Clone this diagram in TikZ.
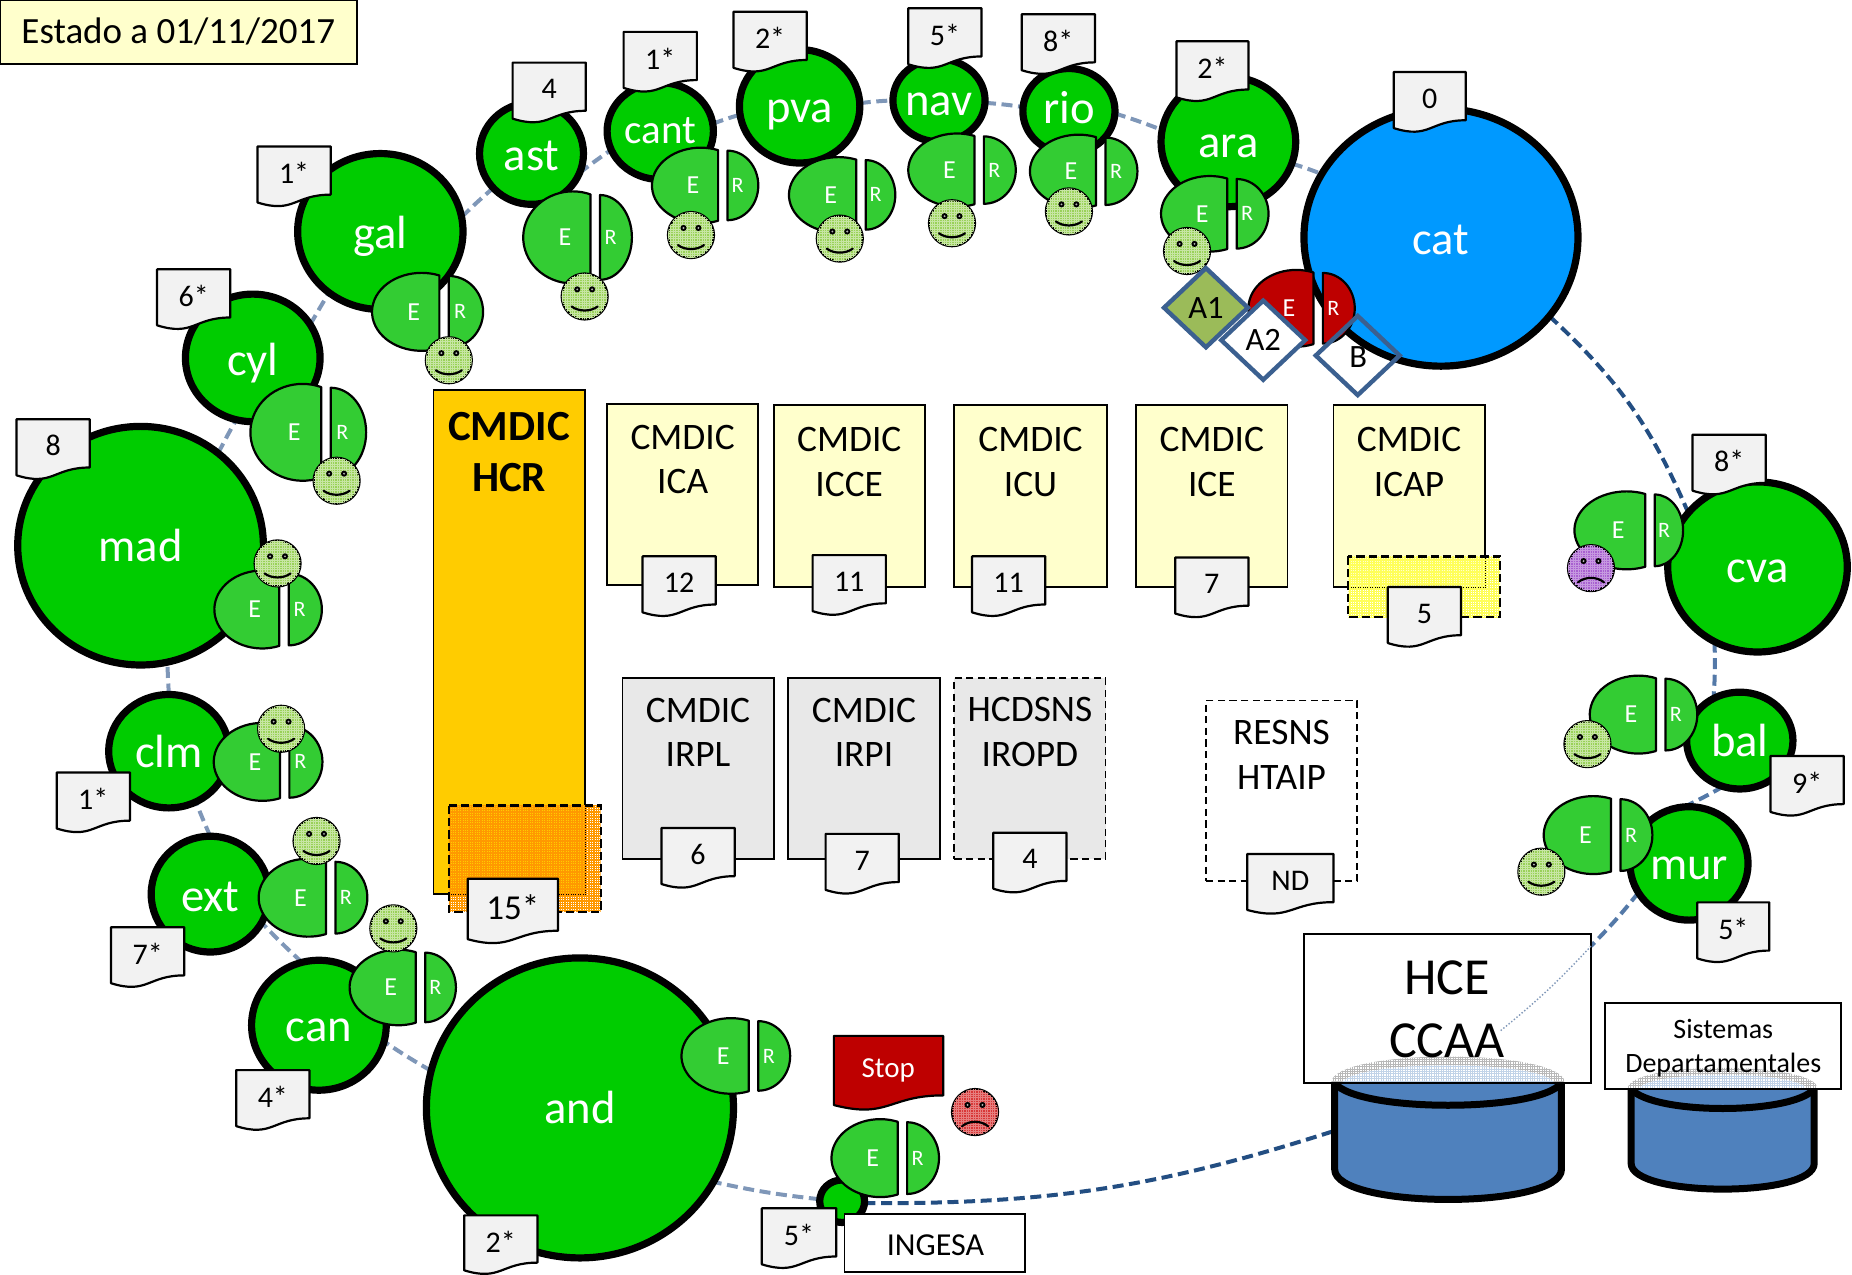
\documentclass[tikz,border=0pt]{standalone}
\usepackage{fontspec}
\setmainfont{Carlito}
\usetikzlibrary{shapes.geometric,patterns,backgrounds}
\pgfdeclarelayer{ringlayer}
\pgfsetlayers{ringlayer,main}
\pgfdeclarepatternformonly{meshthin}{\pgfqpoint{-.2pt}{-.2pt}}{\pgfqpoint{1.4pt}{1.4pt}}{\pgfqpoint{1.2pt}{1.2pt}}{%
 \pgfsetlinewidth{.3pt}\pgfpathmoveto{\pgfqpoint{0pt}{.6pt}}\pgfpathlineto{\pgfqpoint{1.2pt}{.6pt}}\pgfpathmoveto{\pgfqpoint{.6pt}{0pt}}\pgfpathlineto{\pgfqpoint{.6pt}{1.2pt}}\pgfusepath{stroke}}
\pgfdeclarepatternformonly{meshheavy}{\pgfqpoint{-.2pt}{-.2pt}}{\pgfqpoint{1.4pt}{1.4pt}}{\pgfqpoint{1.2pt}{1.2pt}}{%
 \pgfsetlinewidth{.7pt}\pgfpathmoveto{\pgfqpoint{0pt}{.6pt}}\pgfpathlineto{\pgfqpoint{1.2pt}{.6pt}}\pgfpathmoveto{\pgfqpoint{.6pt}{0pt}}\pgfpathlineto{\pgfqpoint{.6pt}{1.2pt}}\pgfusepath{stroke}}
\definecolor{ringdark}{HTML}{234E82}
\definecolor{ringmid}{HTML}{5479A8}
\definecolor{ringlight}{HTML}{7F97B8}
\definecolor{green1}{HTML}{00CC00}
\definecolor{green2}{HTML}{33CC33}
\definecolor{blue1}{HTML}{0099FF}
\definecolor{red1}{HTML}{BE0000}
\definecolor{cream}{HTML}{FFFFCC}
\definecolor{gold}{HTML}{FFCC00}
\definecolor{grayb}{HTML}{E8E8E8}
\definecolor{docgray}{HTML}{F2F2F2}
\definecolor{dblue}{HTML}{3B6090}
\definecolor{cylblue}{HTML}{4F81BD}
\definecolor{smgreen}{HTML}{99D158}
\definecolor{smpurple}{HTML}{A860D0}
\definecolor{smred}{HTML}{D83838}
\definecolor{flaggreen}{HTML}{9BBB59}
\definecolor{orangeover}{HTML}{FF9900}
\definecolor{yellowover}{HTML}{FFFF5A}
\newcommand\hcrfont{\bfseries\fontsize{21.5}{25.4}\selectfont}
\tikzset{
 ring/.style={line width=2pt,dash pattern=on 5.5pt off 2.8pt},
 regioncircle/.style={ellipse,draw=black,line width=3.6pt,inner sep=0pt,outer sep=0pt},
 regionlabel/.style={inner sep=0pt,text=white,font=\fontsize{23.3}{24}\selectfont},
 docpath/.style={draw=black,line width=1.1pt,fill=docgray,line join=round},
 doctext/.style={inner sep=0pt,font=\fontsize{15}{18}\selectfont},
 erpart/.style={draw=black,line width=1.1pt,line join=round},
 ertextE/.style={inner sep=0pt,text=white,font=\fontsize{13}{14}\selectfont},
 ertextR/.style={inner sep=0pt,text=white,font=\fontsize{11}{12}\selectfont},
 face/.style={circle,draw=black,line width=1.1pt,inner sep=0pt,outer sep=0pt,minimum size=23pt},
 smallmouth/.style={line width=1.1pt,line cap=round},
 boxshape/.style={draw=black,line width=.9pt,inner sep=0pt,outer sep=0pt},
 boxdash/.style={dash pattern=on 3.6pt off 2.2pt},
 boxtext/.style={inner sep=0pt,align=center,font=\fontsize{18.7}{22.4}\selectfont},
 overlaydash/.style={draw=black,line width=1.2pt,dash pattern=on 4.2pt off 2pt},
 flag/.style={diamond,draw=dblue,line width=2.2pt,inner sep=0pt,outer sep=0pt,font=\fontsize{16.3}{17}\selectfont,minimum width={71*0.5906pt},minimum height={67*0.5906pt}},
 cylline/.style={line width=3.5pt,line join=round},
}
\newcommand\region[8][regioncircle]{% style,name,cx,cy,rx,ry,label,label dy
 \node[#1,minimum width={(2*#5-6)*0.5906pt},minimum height={(2*#6-6)*0.5906pt}] (#2) at (#3,#4) {};
 \node[regionlabel] (#2T) at (#3,{#4+#8}) {#7};}
\newcommand\docnode[7][]{% style,name,x,y,w,h,text
 \begin{scope}[shift={(#3,#4)},xscale={#5},yscale={#6}]
 \draw[docpath,#1] (0,0) -- (1,0) -- (1,.80) .. controls (.5,.80) and (.5,1.12) .. (0,.93) -- cycle;
 \end{scope}
 \node[doctext] (#2) at ({#3+#5/2},{#4+.44*#6}) {#7};}
\newcommand\ergroup[7]{% name,gapx,cy,Ew,Rw,halfh,fill
 \begin{scope}[shift={(#2-4,#3)},xscale={#4/1.358},yscale={#6}]
 \draw[erpart,fill=#7] (0,.934) arc[start angle=69,end angle=291,radius=1] -- cycle;
 \end{scope}
 \begin{scope}[shift={(#2+4,#3)},xscale={#5},yscale={#6*.92}]
 \draw[erpart,fill=#7] (0,1) arc[start angle=90,end angle=-90,radius=1] -- cycle;
 \end{scope}
 \node[ertextE] (#1E) at ({#2-.45*#4},#3) {E};
 \node[ertextR] (#1R) at ({#2+4+.33*#5},#3) {R};}
\newcommand\eyes[2]{%
 \fill[black] (#1-6.3,#2-6) circle[radius=2.6];
 \fill[black] (#1+6.3,#2-6) circle[radius=2.6];
 \fill[white!70!black] (#1-6.3,#2-6) circle[radius=.9];
 \fill[white!70!black] (#1+6.3,#2-6) circle[radius=.9];}
\newcommand\happy[3]{% name,cx,cy
 \node[face,fill=smgreen,postaction={pattern=meshthin,pattern color=white!45!smgreen}] (#1) at (#2,#3) {};
 \eyes{#2}{#3}
 \draw[smallmouth] (#2-11,#3+8.5) .. controls (#2-5,#3+13) and (#2+5,#3+13) .. (#2+11,#3+8.5);}
\newcommand\sad[4]{% name,cx,cy,colour
 \node[face,fill=#4,postaction={pattern=meshthin,pattern color=white!35!#4}] (#1) at (#2,#3) {};
 \eyes{#2}{#3}
 \draw[smallmouth] (#2-11,#3+12) .. controls (#2-5,#3+7) and (#2+5,#3+7) .. (#2+11,#3+12);}
\newcommand\textbox[8]{% name,x1,y1,x2,y2,style,text,texty
 \node[boxshape,#6,minimum width={(#4-#2)*0.5906pt},minimum height={(#5-#3)*0.5906pt}] (#1) at ({(#2+#4)/2},{(#3+#5)/2}) {};
 \node[boxtext] (#1T) at ({(#2+#4)/2},#8) {#7};}
\begin{document}
\begin{tikzpicture}[x=0.5906pt,y=-0.5906pt]
\useasboundingbox (0,0) rectangle (1568,1078.7);
% regions
\region[regioncircle,fill=blue1]{cat}{1220}{201}{119}{112}{cat}{2}
\region[regioncircle,fill=green1]{mad}{119}{462}{107}{104}{mad}{0}
\region[regioncircle,fill=green1]{gal}{322}{196}{73}{69}{gal}{4}
\region[regioncircle,fill=green1]{cyl}{214}{303}{60}{57}{cyl}{4}
\region[regioncircle,fill=green1]{clm}{143}{636}{54}{51}{clm}{0}
\region[regioncircle,fill=green1]{ext}{178}{757}{53}{52}{ext}{2}
\region[regioncircle,fill=green1]{can}{270}{868}{60}{58}{can}{4}
\region[regioncircle,fill=green1]{and}{491}{938}{133}{130}{and}{0}
\region[regioncircle,fill=green1]{ast}{450}{130}{47}{46}{ast}{2}
\region[regioncircle,fill=green1]{cant}{559}{111}{48}{44}{\fontsize{20.5}{22}\selectfont cant}{0}
\region[regioncircle,fill=green1]{pva}{677}{90}{54}{51}{pva}{7}
\region[regioncircle,fill=green1]{nav}{795}{85}{42}{38}{nav}{3}
\region[regioncircle,fill=green1]{rio}{905}{94}{42}{39}{rio}{-3}
\region[regioncircle,fill=green1]{ara}{1040}{120}{60}{58}{ara}{4}
\region[regioncircle,fill=green1]{cva}{1488}{480}{79}{75}{cva}{4}
\region[regioncircle,fill=green1]{bal}{1473}{627}{48}{44}{bal}{0}
\region[regioncircle,fill=green1]{mur}{1430}{731}{53}{51}{mur}{4}
\region[regioncircle,fill=green1]{ing}{713}{1017}{22}{21}{}{0}
\coordinate (hceIn) at (1347,801);
\coordinate (hceOut) at (1270,873);
\coordinate (hceLeft) at (1128,958);
% ring
\begin{pgfonlayer}{ringlayer}
\draw[ring,ringdark] (cat.-36) to[bend left=12] (cva.142);
\draw[ring,ringmid] (cva.240) to[bend left=3] (bal.122);
\draw[ring,ringmid] (bal.250) to[bend left=2] (mur.95);
\draw[ring,ringmid] (mur.210) to[bend left=3] (hceIn);
\draw[ring,ringdark] (hceLeft) to[bend left=9] (ing.-5);
\draw[ring,ringlight] (ing.175) to[bend left=3] (and.-29);
\draw[ring,ringlight] (and.166) to[bend left=2] (can.-14);
\draw[ring,ringlight] (can.105) to[bend left=2] (ext.-29);
\draw[ring,ringlight] (ext.90) to[bend left=1] (clm.-62);
\draw[ring,ringlight] (clm.90) to[bend left=1] (mad.-77);
\draw[ring,ringlight] (mad.50) to[bend left=1] (cyl.255);
\draw[ring,ringlight] (cyl.30) to[bend left=1] (gal.230);
\draw[ring,ringlight] (gal.10) to[bend left=2] (ast.222);
\draw[ring,ringlight] (ast.-22) to[bend left=2] (cant.201);
\draw[ring,ringlight] (cant.8) to[bend left=2] (pva.188);
\draw[ring,ringlight] (pva.3) to[bend left=2] (nav.180);
\draw[ring,ringlight] (nav.-3) to[bend left=2] (rio.175);
\draw[ring,ringlight] (rio.-3) to[bend left=2] (ara.170);
\draw[ring,ringlight] (ara.-19) to[bend left=2] (cat.152);
\end{pgfonlayer}
% E/R groups
\ergroup{ast}{504}{201}{57}{27}{39}{green2}
\ergroup{cant}{612}{157}{56}{26}{32}{green2}
\ergroup{pva}{729}{165}{57}{25}{32}{green2}
\ergroup{nav}{829}{144}{56}{27}{31}{green2}
\ergroup{rio}{932}{145}{56}{27}{31}{green2}
\ergroup{ara}{1043}{181}{56}{27}{32}{green2}
\ergroup{cat}{1116}{261}{55}{27}{32.5}{red1}
\ergroup{gal}{376}{264}{57}{29}{33}{green2}
\ergroup{cyl}{276}{366}{60}{30}{41}{green2}
\ergroup{mad}{240.5}{516}{55}{28}{33}{green2}
\ergroup{clm}{241}{645}{56}{28}{33}{green2}
\ergroup{ext}{280}{760}{57}{27}{33}{green2}
\ergroup{can}{356}{836}{56}{26}{32}{green2}
\ergroup{and}{638}{894}{57}{27}{32}{green2}
\ergroup{ing}{764}{980.5}{56}{27}{33}{green2}
\ergroup{cva}{1397}{449}{60}{24}{33}{green2}
\ergroup{bal}{1406}{605}{56}{27}{33}{green2}
\ergroup{mur}{1368}{707}{57}{27}{33}{green2}
% faces
\happy{fAst}{495}{251}
\happy{fCant}{585}{199}
\happy{fPva}{711}{202}
\happy{fNav}{806}{189}
\happy{fRio}{905}{179}
\happy{fAra}{1005}{212.5}
\happy{fGal}{380}{305}
\happy{fCyl}{285}{407}
\happy{fMad}{235}{477}
\happy{fClm}{238}{617}
\happy{fExt}{268}{712}
\happy{fCan}{333}{786}
\happy{fBal}{1344}{630}
\happy{fMur}{1305}{738}
\sad{fCva}{1347}{481}{smpurple}
\sad{fIng}{825.5}{941.5}{smred}
% flags
\node[flag,fill=flaggreen] (A1) at (1021,260.5) {A1};
\node[flag,fill=white] (A2) at (1069.5,288) {A2};
\node[flag] (B) at (1149.5,301) {};
\node[inner sep=0pt,font=\fontsize{16.3}{17}\selectfont] (BT) at (1150,302) {B};
% boxes
\textbox{hcr}{367}{330}{495}{757}{fill=gold}{\hcrfont CMDIC\\[3pt]\hcrfont HCR}{383}
\textbox{ica}{514}{342}{642}{495}{fill=cream}{CMDIC\\ICA}{389}
\textbox{icce}{655}{343}{783}{497}{fill=cream}{CMDIC\\ICCE}{391}
\textbox{icu}{808}{343}{937}{497}{fill=cream}{CMDIC\\ICU}{391}
\textbox{ice}{962}{343}{1090}{497}{fill=cream}{CMDIC\\ICE}{391}
\textbox{icap}{1129}{343}{1257}{497}{fill=cream}{CMDIC\\ICAP}{391}
\textbox{irpl}{527}{574}{655}{727}{fill=grayb}{CMDIC\\IRPL}{620}
\textbox{irpi}{667}{574}{796}{727}{fill=grayb}{CMDIC\\IRPI}{620}
\textbox{ropd}{808}{574}{936}{727}{fill=grayb,boxdash}{HCDSNS\\IROPD}{620}
\textbox{htaip}{1021}{593}{1149}{746}{fill=white,boxdash}{RESNS\\HTAIP}{639}
% translucent overlays
\path[pattern=meshheavy,pattern color=orangeover] (380,682) rectangle (508.6,772);
\draw[overlaydash] (380,682) rectangle (508.6,772);
\path[pattern=meshheavy,pattern color=yellowover] (1141.5,471) rectangle (1270,522.6);
\draw[overlaydash] (1141.5,471) rectangle (1270,522.6);
% documents
\docnode{d15}{396}{744}{76.5}{55}{\fontsize{17.5}{18}\selectfont 15*}
\docnode{d12}{544}{471}{62}{51}{12}
\docnode{d11a}{688}{470}{62}{51}{11}
\docnode{d11b}{823}{471}{62}{51}{11}
\docnode{d7a}{995}{472}{62}{51}{7}
\docnode{d5}{1175}{497}{62}{51}{5}
\docnode{d6}{560}{701}{62}{51}{6}
\docnode{d7b}{699}{706}{62}{51}{7}
\docnode{d4b}{841}{705}{62}{51}{4}
\docnode{dnd}{1056}{723}{73}{51}{ND}
\docnode{dast}{434}{53}{62}{51}{4}
\docnode{dcant}{528}{27}{62}{51}{1*}
\docnode{dpva}{621}{10}{62}{51}{2*}
\docnode{dnav}{769}{7}{62}{51}{5*}
\docnode{drio}{865}{12}{62}{51}{8*}
\docnode{dara}{996}{35}{61}{51}{2*}
\docnode{dcat}{1180}{61}{61}{51}{0}
\docnode{dgal}{218}{124}{62}{51}{1*}
\docnode{dcyl}{133}{228}{62}{51}{6*}
\docnode{dmad}{14}{355}{62}{51}{8}
\docnode{dclm}{48}{654}{62}{51}{1*}
\docnode{dext}{94}{785}{62}{51}{7*}
\docnode{dcan}{200}{906}{62}{51}{4*}
\docnode{dand}{393}{1029}{62}{50}{2*}
\docnode{ding}{645}{1023}{63}{51}{5*}
\docnode{dcva}{1433}{368}{62}{51}{8*}
\docnode{dbal}{1499}{640}{62}{51}{9*}
\docnode{dmur}{1437}{764}{61}{51}{5*}
% Stop
\begin{scope}[shift={(706,877)},xscale=92.6,yscale=63]
\draw[docpath,fill=red1] (0,0) -- (1,0) -- (1,.80) .. controls (.5,.80) and (.5,1.12) .. (0,.93) -- cycle;
\end{scope}
\node[inner sep=0pt,text=white,font=\fontsize{14.5}{15}\selectfont] (stop) at (752,906) {Stop};
% INGESA
\node[boxshape,fill=white,minimum width={153*0.5906pt},minimum height={49*0.5906pt}] (ingesa) at (791.5,1052.5) {};
\node[inner sep=0pt,font=\fontsize{16}{17}\selectfont] (ingesaT) at (792,1054) {INGESA};
% title
\node[boxshape,fill=cream,minimum width={302*0.5906pt},minimum height={54*0.5906pt}] (title) at (151,27) {};
\node[inner sep=0pt,font=\fontsize{18.5}{20}\selectfont] (titleT) at (151,27) {Estado a 01/11/2017};
% HCE
\fill[cylblue] (1130,917) -- (1130,990) .. controls (1130,1024) and (1322,1024) .. (1322,990) -- (1322,917) -- cycle;
\draw[cylline] (1130,917) -- (1130,990) .. controls (1130,1024) and (1322,1024) .. (1322,990) -- (1322,917);
\draw[cylline] (1130,917) .. controls (1150,942) and (1302,942) .. (1322,917);
\node[boxshape,fill=white,minimum width={243*0.5906pt},minimum height={126*0.5906pt}] (hce) at (1225.5,854) {};
\draw[densely dotted,ringlight,line width=.7pt] (hceIn) to[bend left=4] (hceOut);
\path[pattern=meshthin,pattern color=black!28] (1127,917) .. controls (1127,887) and (1325,887) .. (1325,917) -- cycle;
\fill[white] (1136,917) .. controls (1146,897) and (1306,897) .. (1316,917) -- cycle;
\path[pattern=meshthin,pattern color=cylblue!35] (1136,917) .. controls (1146,897) and (1306,897) .. (1316,917) -- cycle;
\node[inner sep=0pt,align=center,font=\fontsize{26}{31.3}\selectfont] (hceT) at (1225,854.5) {HCE\\CCAA};
\draw[line width=.9pt] (hce.south west) -- (hce.south east);
% Sistemas
\fill[cylblue] (1381,922) -- (1381,985) .. controls (1381,1014) and (1536,1014) .. (1536,985) -- (1536,922) -- cycle;
\draw[cylline] (1381,922) -- (1381,985) .. controls (1381,1014) and (1536,1014) .. (1536,985) -- (1536,922);
\draw[cylline] (1381,922) .. controls (1400,944) and (1517,944) .. (1536,922);
\node[boxshape,fill=white,minimum width={200*0.5906pt},minimum height={73*0.5906pt}] (dep) at (1459,885.5) {};
\path[pattern=meshthin,pattern color=black!28] (1378,922) .. controls (1378,898) and (1539,898) .. (1539,922) -- cycle;
\fill[white] (1387,922) .. controls (1397,906) and (1520,906) .. (1530,922) -- cycle;
\path[pattern=meshthin,pattern color=cylblue!35] (1387,922) .. controls (1397,906) and (1520,906) .. (1530,922) -- cycle;
\node[inner sep=0pt,align=center,font=\fontsize{14}{17}\selectfont] (depT) at (1459,887.5) {Sistemas\\Departamentales};
\draw[line width=.9pt] (dep.south west) -- (dep.south east);
\end{tikzpicture}
\end{document}
